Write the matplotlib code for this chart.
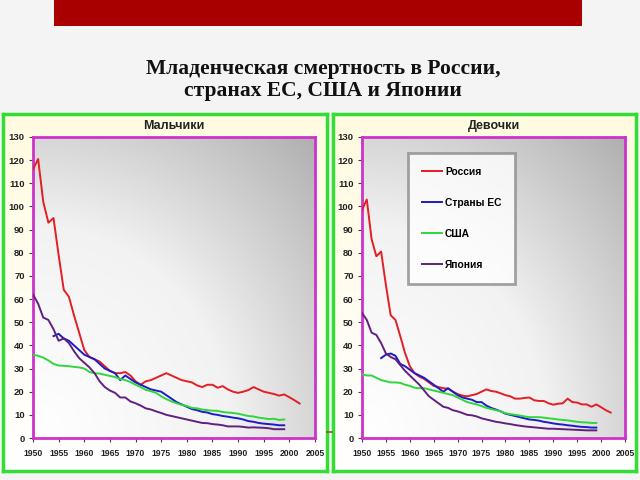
import numpy as np
import matplotlib
matplotlib.use("Agg")
import matplotlib.pyplot as plt
from matplotlib.colors import LinearSegmentedColormap

# --- data (deaths per 1000 births) ---
years = list(range(1950, 2003))
years_eu = list(range(1954, 2000))
years_short = list(range(1950, 2000))

boys_russia = [116, 120.5, 102, 93, 95, 79, 64, 61, 53, 45.5,
               38, 35, 34, 33, 31, 29, 28, 28, 28.5, 27,
               24.5, 23, 24.5, 25, 26, 27, 28, 27, 26, 25,
               24.5, 24, 22.7, 22, 23, 23, 21.7, 22.4, 21, 20,
               19.5, 20, 20.7, 22, 21, 20, 19.5, 19, 18.3, 18.8,
               17.6, 16.3, 14.9]
boys_eu = [44, 45, 43, 42, 40, 38, 36, 35, 34, 32,
           30, 29, 28, 25, 27, 25.5, 24, 23, 22, 21,
           20.5, 20, 18.5, 17, 15.5, 14.5, 13.5, 12.5, 12, 11.3,
           11, 10.3, 10, 9.5, 9.2, 8.8, 8.5, 8, 7.3, 7,
           6.5, 6.2, 6, 5.8, 5.5, 5.5]
boys_usa = [36, 35.5, 34.7, 33.5, 32, 31.3, 31.2, 31, 30.7, 30.5,
            30, 28.5, 28, 27.8, 27.3, 26.8, 26.3, 25.5, 25, 24.2,
            23, 22, 20.8, 20.2, 19.5, 18, 16.8, 15.8, 15, 14.3,
            13.8, 13, 12.8, 12.3, 12, 11.8, 11.7, 11.2, 11, 10.8,
            10.5, 10, 9.5, 9.3, 8.8, 8.5, 8.2, 8.3, 7.8, 8]
boys_japan = [62, 58, 52, 51, 47, 42, 43, 41, 37.5, 34.5,
              32.5, 30.5, 28, 24.5, 22, 20.5, 19.5, 17.5, 17.5, 15.8,
              15, 14, 12.8, 12.3, 11.5, 10.8, 10, 9.5, 9, 8.5,
              8, 7.5, 7, 6.5, 6.4, 6, 5.8, 5.5, 5, 5,
              5, 4.8, 4.5, 4.6, 4.5, 4.4, 4.2, 3.8, 3.8, 3.8]

girls_russia = [98.5, 103, 86, 78.5, 80.5, 66, 53, 51, 44, 36.7,
                31, 28, 26.5, 25.5, 24, 22.5, 22, 21.5, 21.3, 20,
                19, 18.3, 18, 18.5, 19, 20, 21, 20.3, 20, 19.3,
                18.5, 18, 17, 17, 17.3, 17.5, 16.3, 16, 16, 15,
                14.4, 14.8, 15, 17, 15.5, 15.3, 14.5, 14.5, 13.5, 14.5,
                13.3, 12, 11]
girls_eu = [34.5, 36, 36.5, 35.5, 32, 31, 29.5, 28, 27, 26,
            24.5, 23, 21.5, 20, 21.5, 20, 18.5, 17.5, 17, 16.5,
            15.5, 15.5, 14, 13, 12.3, 11.5, 10.5, 10, 9.5, 9,
            8.5, 8, 7.8, 7.5, 7, 6.7, 6.3, 6, 5.8, 5.5,
            5.3, 5, 4.8, 4.7, 4.5, 4.5]
girls_usa = [27.5, 27, 27, 26, 25, 24.5, 24, 24, 23.8, 23,
             22.5, 21.7, 21.5, 21.5, 21, 20.5, 20, 19.5, 19, 18.5,
             17.5, 16.5, 15.5, 15, 14.5, 13.8, 13, 12.5, 12, 11.5,
             10.7, 10.3, 10, 9.7, 9.3, 9, 9, 9, 8.8, 8.5,
             8.3, 8, 7.8, 7.6, 7.3, 7, 6.8, 6.7, 6.5, 6.5]
girls_japan = [54, 51, 45.5, 44.5, 41, 36.5, 35, 34, 31.5, 29,
               27, 25, 23, 20.5, 18, 16.5, 15, 13.5, 13, 12,
               11.5, 10.8, 10, 9.8, 9.3, 8.5, 8, 7.5, 7, 6.7,
               6.3, 6, 5.6, 5.3, 5, 4.8, 4.6, 4.4, 4.2, 4,
               4, 3.9, 3.8, 3.7, 3.6, 3.5, 3.4, 3.3, 3.3, 3.3]

labels = ["Россия", "Страны ЕС", "США", "Япония"]
colors = ["#e31e24", "#1c1cc8", "#2fd63c", "#62207e"]

title = "Младенческая смертность в России,\nстранах ЕС, США и Японии"
panel_titles = ["Мальчики", "Девочки"]

W, H = 640, 480


def px(x0, y0, x1, y1):
    # pixel box (top-left origin) -> figure fraction rect
    return [x0 / W, 1 - y1 / H, (x1 - x0) / W, (y1 - y0) / H]


fig = plt.figure(figsize=(6.4, 4.8), dpi=100)
fig.patch.set_facecolor("#f4f4f4")

# red banner on top
ban = fig.add_axes(px(54, 0, 582, 26))
ban.set_facecolor("#a80000")
ban.set_xticks([])
ban.set_yticks([])
for s in ban.spines.values():
    s.set_visible(False)

fig.text(0.505, 1 - 80 / H, title, ha="center", va="center",
         fontsize=15.5, fontweight="bold", family="Liberation Serif",
         linespacing=1.12, color="#111111")

# gradients
yy, xx = np.mgrid[0:1:100j, 0:1:100j]
axes_grad = LinearSegmentedColormap.from_list("g", ["#ffffff", "#f2f2f2", "#b0b0b0"])
panel_grad = LinearSegmentedColormap.from_list("p", ["#fffbe0", "#ffffff"])

panels = [(3, 114, 327, 471), (333, 114, 636, 471)]
plots = [(33, 137, 315, 438), (362, 137, 625, 438)]
series = [
    [(years, boys_russia), (years_eu, boys_eu), (years_short, boys_usa), (years_short, boys_japan)],
    [(years, girls_russia), (years_eu, girls_eu), (years_short, girls_usa), (years_short, girls_japan)],
]

for i in range(2):
    pb = fig.add_axes(px(*panels[i]))
    pb.imshow(1 - yy, cmap=panel_grad, extent=[0, 1, 0, 1], aspect="auto", origin="lower")
    pb.set_xlim(0, 1)
    pb.set_ylim(0, 1)
    pb.set_xticks([])
    pb.set_yticks([])
    for s in pb.spines.values():
        s.set_color("#33dd33")
        s.set_linewidth(2.5)
    cx = (plots[i][0] + plots[i][2]) / 2 / W
    fig.text(cx, 1 - 126 / H, panel_titles[i], ha="center", va="center",
             fontsize=9, fontweight="bold", family="Liberation Sans", color="#222222")

    ax = fig.add_axes(px(*plots[i]))
    ax.imshow(np.sqrt((xx ** 2 + yy ** 2) / 2), cmap=axes_grad, extent=[1950, 2005, 0, 130],
              aspect="auto", origin="lower", zorder=0)
    for (xs, ys), c, lab in zip(series[i], colors, labels):
        ax.plot(xs, ys, color=c, lw=1.4, label=lab, zorder=3)
    ax.set_xlim(1950, 2005)
    ax.set_ylim(0, 130)
    ax.set_xticks(range(1950, 2006, 5))
    ax.set_yticks(range(0, 131, 10))
    for s in ax.spines.values():
        s.set_color("#cc33cc")
        s.set_linewidth(2)
    ax.tick_params(axis="both", length=3, width=0.8, color="#444444")
    ax.tick_params(axis="x", pad=5)
    ax.tick_params(axis="y", pad=3)
    for t in ax.get_xticklabels():
        t.set_fontsize(6.2)
        t.set_fontweight("bold")
        t.set_family("Liberation Sans")
        t.set_color("#222222")
    for t in ax.get_yticklabels():
        t.set_fontsize(6.8)
        t.set_fontweight("bold")
        t.set_family("Liberation Sans")
        t.set_color("#222222")

    if i == 1:
        leg = ax.legend(loc="upper left", bbox_to_anchor=(0.175, 0.947),
                        frameon=True, fancybox=False, labelspacing=2.05,
                        handlelength=2.0, handletextpad=0.25, borderpad=1.35,
                        borderaxespad=0,
                        prop={"family": "Liberation Sans", "weight": "bold", "size": 7.4})
        leg.get_frame().set_edgecolor("#8c8c8c")
        leg.get_frame().set_linewidth(2)
        leg.get_frame().set_facecolor("white")
        leg.set_zorder(5)

# little dash between the panels on the slide
fig.add_artist(plt.Line2D([327 / W, 332 / W], [1 - 432 / H, 1 - 432 / H],
                          color="#a0522d", lw=1.2))

fig.savefig("out.png", dpi=100, facecolor=fig.get_facecolor())
